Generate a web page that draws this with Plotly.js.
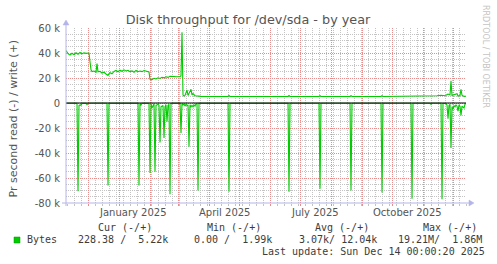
<!DOCTYPE html>
<html><head><meta charset="utf-8">
<script src="https://cdn.plot.ly/plotly-3.0.1.min.js"></script>
<style>html,body{margin:0;padding:0;background:#fff;}#chart{width:497px;height:264px;}</style>
</head><body><div id="chart"></div>
<script>
// ---- data (bytes per second, daily) ----
const writeDates = [
 '2024-11-09','2024-11-11','2024-11-13','2024-11-15','2024-11-17','2024-11-19','2024-11-21','2024-11-23','2024-11-25','2024-11-27','2024-11-29',
 '2024-12-01','2024-12-02','2024-12-03','2024-12-04','2024-12-05','2024-12-07','2024-12-09','2024-12-10','2024-12-11','2024-12-13','2024-12-15',
 '2024-12-17','2024-12-19','2024-12-21','2024-12-22','2024-12-23','2024-12-25','2024-12-27','2024-12-29','2024-12-31',
 '2025-01-02','2025-01-04','2025-01-06','2025-01-08','2025-01-10','2025-01-12','2025-01-14','2025-01-16','2025-01-18','2025-01-20',
 '2025-01-22','2025-01-24','2025-01-26','2025-01-28','2025-01-30','2025-01-31',
 '2025-02-01','2025-02-03','2025-02-05','2025-02-07','2025-02-09','2025-02-11','2025-02-13','2025-02-15','2025-02-17','2025-02-19',
 '2025-02-21','2025-02-23','2025-02-25','2025-02-27',
 '2025-03-01','2025-03-03','2025-03-04','2025-03-05','2025-03-06','2025-03-07','2025-03-08','2025-03-10','2025-03-11','2025-03-12',
 '2025-03-14','2025-03-15','2025-03-16','2025-03-18','2025-03-20','2025-03-24',
 '2025-04-20','2025-04-21','2025-04-22','2025-05-28','2025-06-19','2025-06-20','2025-06-21','2025-07-20','2025-07-21','2025-07-22',
 '2025-08-20','2025-08-21','2025-08-22','2025-09-20','2025-09-21','2025-09-22','2025-10-20','2025-10-21','2025-10-22',
 '2025-11-08','2025-11-09','2025-11-15','2025-11-19','2025-11-20','2025-11-21','2025-11-24','2025-11-26','2025-11-28','2025-11-29',
 '2025-11-30','2025-12-02','2025-12-05','2025-12-06','2025-12-08','2025-12-09','2025-12-10','2025-12-12','2025-12-14'
];
const writeBytes = [
 42000,39500,38300,39800,38600,40200,39000,40500,39400,40200,39700,
 40300,40000,33000,26500,25200,25600,24600,31500,25000,25400,24000,
 24600,23200,22000,23500,24200,23400,25200,26000,25000,
 26200,25400,26500,25600,26200,25100,25700,24600,26100,25000,
 25600,25100,26000,25500,25300,24800,
 19000,18600,19800,19200,20200,19600,20600,20100,21000,20500,
 21400,21000,21200,21000,
 21100,21000,22000,56500,6400,5500,6000,10400,6000,7500,
 11000,6500,7500,5800,5500,5300,
 5200,6000,5200,5200,5200,6000,5200,5200,5900,5200,
 5200,5900,5200,5200,5800,5200,5200,5800,5200,
 5200,5600,5800,6200,6400,6000,6200,7200,6500,17700,
 6000,6500,7500,5600,6000,11000,6200,5300,5400
];
const readDates = [
 '2024-11-09','2024-11-20','2024-11-21','2024-11-22','2024-11-23','2024-11-24','2024-11-25','2024-11-29','2024-11-30','2024-12-01',
 '2024-12-20','2024-12-21','2024-12-22',
 '2025-01-20','2025-01-21','2025-01-22','2025-01-23','2025-01-24','2025-01-31',
 '2025-02-01','2025-02-02','2025-02-03','2025-02-05','2025-02-06','2025-02-07','2025-02-09','2025-02-10','2025-02-11','2025-02-12',
 '2025-02-14','2025-02-15','2025-02-16','2025-02-17','2025-02-18','2025-02-19','2025-02-20','2025-02-21','2025-02-22','2025-02-23',
 '2025-03-03','2025-03-04','2025-03-05','2025-03-06','2025-03-07','2025-03-08','2025-03-09','2025-03-10','2025-03-11','2025-03-12',
 '2025-03-13','2025-03-14','2025-03-15','2025-03-16','2025-03-17','2025-03-18','2025-03-19','2025-03-20','2025-03-21','2025-03-22',
 '2025-04-20','2025-04-21','2025-04-22','2025-06-19','2025-06-20','2025-06-21','2025-07-20','2025-07-21','2025-07-22',
 '2025-08-20','2025-08-21','2025-08-22','2025-09-20','2025-09-21','2025-09-22','2025-10-20','2025-10-21','2025-10-22',
 '2025-11-08','2025-11-09','2025-11-10','2025-11-19','2025-11-20','2025-11-21','2025-11-22','2025-11-24','2025-11-25','2025-11-26',
 '2025-11-27','2025-11-28','2025-11-29','2025-11-30','2025-12-01','2025-12-02','2025-12-03','2025-12-04','2025-12-05','2025-12-06',
 '2025-12-07','2025-12-08','2025-12-09','2025-12-10','2025-12-11','2025-12-12','2025-12-13','2025-12-14'
];
const readBytes = [
 -200,-300,-70500,-2000,-1500,-1800,-300,-200,-1200,-200,
 -200,-66000,-300,
 -200,-66000,-300,-1500,-200,-300,
 -56000,-500,-4000,-500,-55000,-2000,-1000,-2000,-31500,-3000,
 -2000,-28000,-3000,-1500,-15000,-2000,-1000,-73000,-500,-200,
 -300,-24000,-500,-1500,-800,-2500,-1000,-2000,-1500,-35000,
 -1500,-3000,-2000,-3000,-1500,-2500,-500,-300,-70000,-300,
 -300,-71000,-300,-200,-71000,-200,-200,-68500,-200,
 -200,-70000,-200,-200,-71500,-200,-200,-76500,-200,
 -200,-1000,-200,-200,-77000,-500,-200,-500,-1500,-12500,
 -2000,-1000,-36000,-3000,-5000,-2000,-3000,-1500,-2500,-6500,
 -1500,-2500,-10000,-2500,-3000,-4000,-1000,-228
];
const yTickVals = [-80000,-60000,-40000,-20000,0,20000,40000,60000];
const yTickText = ['-80 k','-60 k','-40 k','-20 k','0','20 k','40 k','60 k'];
const monthLabelDates = ['2025-01-15','2025-04-16','2025-07-16','2025-10-16'];
const monthLabelText = ['January 2025','April 2025','July 2025','October 2025'];
const titleText = 'Disk throughput for /dev/sda - by year';
const yTitleText = 'Pr second read (-) / write (+)';
const watermarkText = 'RRDTOOL / TOBI OETIKER';
const legendHeader = ['Cur (-/+)','Min (-/+)','Avg (-/+)','Max (-/+)'];
const seriesName = 'Bytes';
const legendValues = ['228.38 /  5.22k','0.00 /  1.99k','3.07k/ 12.04k','19.21M/  1.86M'];
const lastUpdate = 'Last update: Sun Dec 14 00:00:20 2025';

// ---- layout geometry ----
const W = 497, H = 264, L = 66, R = 31, T = 28, B = 61;
const PW = W - L - R, PH = H - T - B;
const px = p => (p - L) / PW;
const py = p => (H - B - p) / PH;
const nb = s => s.replace(/ /g, '\u00a0');

const green = '#00cc00';
const axisCol = 'rgb(180,180,235)';
const textCol = '#555555';
const legCol = '#3c3c3c';
const majorGrid = 'rgb(232,140,140)';
const minorGrid = 'rgb(195,195,195)';
const gridDash = '1px,1px';
const mono = 'DejaVu Sans Mono';
const sans = 'DejaVu Sans';

const traces = [
  {x: writeDates, y: writeBytes, type: 'scatter', mode: 'lines', line: {color: green, width: 1.1}, hoverinfo: 'skip', showlegend: false},
  {x: readDates, y: readBytes, type: 'scatter', mode: 'lines', line: {color: green, width: 1.1}, hoverinfo: 'skip', showlegend: false}
];

const ann = [];
monthLabelDates.forEach((d, i) => ann.push({xref: 'x', x: d, yref: 'paper', y: py(212.5), text: monthLabelText[i],
  showarrow: false, xanchor: 'center', yanchor: 'middle', font: {family: sans, size: 10, color: textCol}, borderpad: 0}));
ann.push({xref: 'paper', x: px(12.5), yref: 'paper', y: py(119), text: yTitleText, textangle: -90, showarrow: false,
  xanchor: 'center', yanchor: 'middle', font: {family: sans, size: 11, color: textCol}});
ann.push({xref: 'paper', x: px(486), yref: 'paper', y: py(56), text: watermarkText, textangle: 90, showarrow: false,
  xanchor: 'center', yanchor: 'middle', font: {family: sans, size: 8, color: '#c4c4c4'}});
const hdrX = [98.3, 206.7, 315, 422.7];
legendHeader.forEach((t, i) => ann.push({xref: 'paper', x: px(hdrX[i]), yref: 'paper', y: py(227.7), text: nb(t), showarrow: false,
  xanchor: 'left', yanchor: 'middle', borderpad: 0, borderwidth: 0, font: {family: mono, size: 10, color: legCol}}));
ann.push({xref: 'paper', x: px(26.7), yref: 'paper', y: py(239.7), text: seriesName, showarrow: false,
  xanchor: 'left', yanchor: 'middle', borderpad: 0, borderwidth: 0, font: {family: mono, size: 10, color: legCol}});
const valX = [77.7, 194.3, 299, 398.3];
legendValues.forEach((t, i) => ann.push({xref: 'paper', x: px(valX[i]), yref: 'paper', y: py(239.7), text: nb(t), showarrow: false,
  xanchor: 'left', yanchor: 'middle', borderpad: 0, borderwidth: 0, font: {family: mono, size: 10, color: legCol}}));
ann.push({xref: 'paper', x: px(261.7), yref: 'paper', y: py(251.7), text: nb(lastUpdate), showarrow: false,
  xanchor: 'left', yanchor: 'middle', borderpad: 0, borderwidth: 0, font: {family: mono, size: 10, color: legCol}});

const P = (x, y) => px(x) + ',' + py(y);
const shapes = [
  {type: 'line', xref: 'paper', yref: 'y', x0: 0, x1: 1, y0: 0, y1: 0, line: {color: '#000', width: 1}, layer: 'above'},
  {type: 'line', xref: 'paper', yref: 'paper', x0: px(66), x1: px(66), y0: py(206), y1: py(24), line: {color: axisCol, width: 1}, layer: 'above'},
  {type: 'path', xref: 'paper', yref: 'paper', path: 'M' + P(63, 25) + ' L' + P(66, 20) + ' L' + P(69, 25) + ' Z', fillcolor: axisCol, line: {color: axisCol, width: 0.5}, layer: 'above'},
  {type: 'line', xref: 'paper', yref: 'paper', x0: px(62), x1: px(470), y0: py(203), y1: py(203), line: {color: axisCol, width: 1}, layer: 'above'},
  {type: 'path', xref: 'paper', yref: 'paper', path: 'M' + P(469, 200) + ' L' + P(474, 203) + ' L' + P(469, 206) + ' Z', fillcolor: axisCol, line: {color: axisCol, width: 0.5}, layer: 'above'},
  {type: 'rect', xref: 'paper', yref: 'paper', x0: px(14), x1: px(20), y0: py(243), y1: py(237), fillcolor: green, line: {color: '#009900', width: 0.5}}
];

const layout = {
  width: W, height: H,
  margin: {l: L, r: R, t: T, b: B, pad: 0},
  paper_bgcolor: '#ffffff', plot_bgcolor: '#ffffff',
  showlegend: false,
  title: {text: titleText, font: {family: sans, size: 12.8, color: textCol}, xref: 'container', yref: 'container',
    x: 248 / W, xanchor: 'center', y: 1 - 20 / H, yanchor: 'middle'},
  xaxis: {
    type: 'date', range: ['2024-11-09', '2025-12-14'], fixedrange: true,
    tickmode: 'linear', tick0: '2024-12-01', dtick: 'M1', showticklabels: false,
    showgrid: true, gridcolor: majorGrid, griddash: gridDash, gridwidth: 1,
    ticks: 'outside', ticklen: 2, tickcolor: majorGrid,
    minor: {tick0: '2024-11-10', dtick: 7 * 86400000, showgrid: true, gridcolor: minorGrid, griddash: gridDash, gridwidth: 1,
      ticks: 'outside', ticklen: 2, tickcolor: minorGrid},
    zeroline: false, showline: false
  },
  yaxis: {
    range: [-80000, 60000], fixedrange: true,
    tickmode: 'array', tickvals: yTickVals, ticktext: yTickText,
    tickfont: {family: sans, size: 10, color: textCol}, ticklabelstandoff: 5,
    showgrid: true, gridcolor: majorGrid, griddash: gridDash, gridwidth: 1,
    minor: {dtick: 5000, tick0: 0, showgrid: true, gridcolor: minorGrid, griddash: gridDash, gridwidth: 1},
    ticks: '', zeroline: false, showline: false
  },
  annotations: ann,
  shapes: shapes
};

Plotly.newPlot('chart', traces, layout, {staticPlot: true, displayModeBar: false});
</script></body></html>
